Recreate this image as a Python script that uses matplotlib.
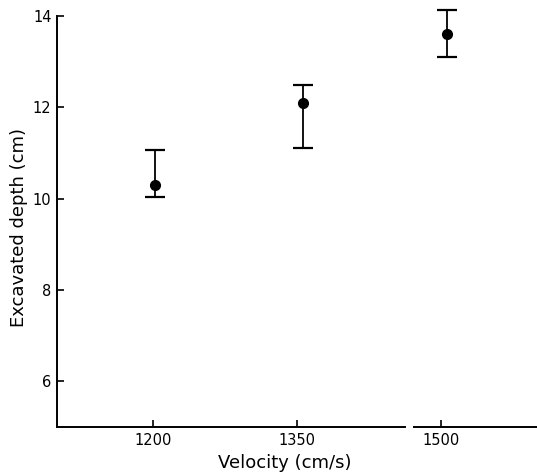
import numpy as np
import matplotlib
matplotlib.use("Agg")
from matplotlib import pyplot as plt

# values
velocity = [1202, 1356, 1506]
depth = [10.31, 12.10, 13.61]
depth_low = [10.04, 11.11, 13.10]
depth_high = [11.07, 12.50, 14.13]

x_ticks = [1200, 1350, 1500]
y_ticks = [6, 8, 10, 12, 14]

fig = plt.figure(figsize=(5.37, 4.75), dpi=100)
ax = fig.add_axes([57/537, 48/475, 480/537, 411/475])

err = np.array([np.array(depth) - np.array(depth_low),
                np.array(depth_high) - np.array(depth)])
ax.errorbar(velocity, depth, yerr=err, fmt='o', color='black',
            markersize=7, capsize=7, capthick=1.6, elinewidth=1.3,
            clip_on=False)

ax.set_xlim(1100, 1600)
ax.set_ylim(5, 14)
ax.set_xticks(x_ticks)
ax.set_yticks(y_ticks)
ax.tick_params(direction='in', length=5, width=1.2, labelsize=10.5, pad=4)

ax.spines['top'].set_visible(False)
ax.spines['right'].set_visible(False)
ax.spines['left'].set_linewidth(1.4)
ax.spines['bottom'].set_linewidth(1.4)
# broken x axis between 1350 and 1500
ax.spines['bottom'].set_bounds(1100, 1463)
ax.plot([1471, 1600], [5, 5], color='black', lw=1.4, clip_on=False,
        solid_capstyle='butt')

ax.set_xlabel('Velocity (cm/s)', fontsize=13)
ax.set_ylabel('Excavated depth (cm)', fontsize=13)
ax.xaxis.set_label_coords(0.475, -0.065)
ax.yaxis.set_label_coords(-0.06, 0.485)

fig.savefig('out.png', dpi=100)
